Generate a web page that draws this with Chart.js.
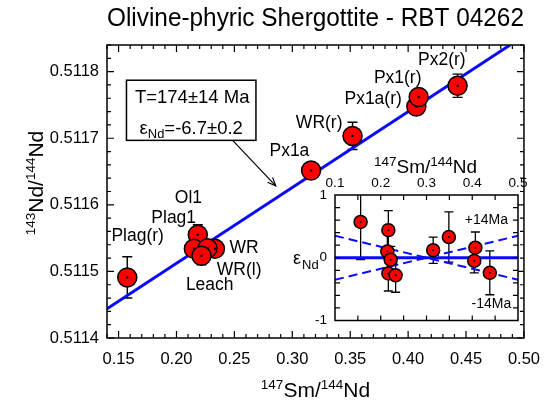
<!DOCTYPE html>
<html><head><meta charset="utf-8">
<script src="https://cdn.jsdelivr.net/npm/chart.js@4.4.1/dist/chart.umd.min.js"></script>
<style>
html,body{margin:0;padding:0;background:#fff;}
#wrap{position:relative;width:552px;height:408px;overflow:hidden;}
#main{position:absolute;left:0;top:0;}
#inset{position:absolute;left:280px;top:150px;}
</style></head><body>
<div id="wrap"><canvas id="main" width="552" height="408"></canvas><canvas id="inset" width="262" height="190"></canvas></div>
<script>
// ---------- data ----------
const sampleNames = ['Plag(r)','Ol1','Plag1','WR','WR(l)','Leach','Px1a','WR(r)','Px1a(r)','Px1(r)','Px2(r)'];
const smNd  = [0.1575, 0.2184, 0.2150, 0.2332, 0.2268, 0.2216, 0.3162, 0.3520, 0.4071, 0.4091, 0.4427];
const ndNd  = [0.511491, 0.511555, 0.511534, 0.511534, 0.5115347, 0.5115235, 0.5116515, 0.5117035, 0.5117475, 0.511762, 0.5117788];
const ndErr = [0.000031, 0.000015, 0.000010, 0.000010, 0.000010, 0.0000135, 0.000008, 0.0000205, 0.000008, 0.000008, 0.0000175];
const isoX = [0.14, 0.488];
const isoY = [0.511444, 0.51184];
const xTicks = [0.15, 0.20, 0.25, 0.30, 0.35, 0.40, 0.45, 0.50];
const yTicks = [0.5114, 0.5115, 0.5116, 0.5117, 0.5118];

const epsX   = [0.156, 0.2166, 0.2144, 0.2217, 0.2166, 0.2325, 0.3146, 0.3489, 0.4068, 0.4044, 0.4384];
const epsVal = [0.57, 0.44, 0.10, -0.03, -0.25, -0.28, 0.12, 0.33, 0.16, -0.05, -0.24];
const epsErr = [0.60, 0.31, 0.30, 0.21, 0.28, 0.27, 0.21, 0.40, 0.25, 0.19, 0.35];
const zeroX = [0.1, 0.5], zeroY = [0, 0];
const envX = [0.1, 0.5];
const envPlus = [-0.35, 0.35];
const envMinus = [0.35, -0.35];
const insetXTicks = [0.1, 0.2, 0.3, 0.4, 0.5];
const insetYTicks = [-1, 0, 1];

// ---------- annotation placement (data coordinates) ----------
const labelPos = {
  'Plag(r)':[0.1665,0.5115524], 'Ol1':[0.2103,0.5116105], 'Plag1':[0.1976,0.5115805],
  'WR':[0.2583,0.511535], 'WR(l)':[0.2541,0.5115025], 'Leach':[0.2287,0.5114789],
  'Px1a':[0.2975,0.511681], 'WR(r)':[0.3232,0.5117226], 'Px1a(r)':[0.3698,0.5117586],
  'Px1(r)':[0.391,0.5117901], 'Px2(r)':[0.4291,0.5118165]
};
const infoBox = {x1:0.1568, x2:0.2686, yTop:0.5117871, yBot:0.5116968};
const arrow = {from:[0.2485,0.5116968], to:[0.2857,0.5116285]};

const FONT = '"Liberation Sans", Arial, Helvetica, sans-serif';
const BLUE = '#0a0aff', RED = '#ff0000';

function richWidth(ctx, parts){
  let w=0; parts.forEach(p=>{ctx.font=p.size+'px '+FONT; w+=ctx.measureText(p.t).width;}); return w;
}
function drawRich(ctx, parts, x, y){ // x = centre, y = baseline
  let cx = x - richWidth(ctx, parts)/2;
  ctx.textAlign='left'; ctx.textBaseline='alphabetic';
  parts.forEach(p=>{ctx.font=p.size+'px '+FONT; ctx.fillText(p.t, cx, y + (p.dy||0)); cx += ctx.measureText(p.t).width;});
}

const mainDecor = {
  id:'mainDecor',
  beforeDatasetsDraw(chart){
    const {ctx, scales:{x,y}} = chart;
    ctx.save(); ctx.strokeStyle='#000'; ctx.lineWidth=1.4;
    smNd.forEach((v,i)=>{
      const px=x.getPixelForValue(v), y1=y.getPixelForValue(ndNd[i]+ndErr[i]), y2=y.getPixelForValue(ndNd[i]-ndErr[i]);
      ctx.beginPath(); ctx.moveTo(px,y1); ctx.lineTo(px,y2);
      ctx.moveTo(px-5,y1); ctx.lineTo(px+5,y1); ctx.moveTo(px-5,y2); ctx.lineTo(px+5,y2); ctx.stroke();
    });
    ctx.restore();
  },
  afterDatasetsDraw(chart){
    const {ctx, scales:{x,y}, chartArea:a} = chart;
    ctx.save();
    // centre dots
    ctx.fillStyle='#000';
    smNd.forEach((v,i)=>{ctx.beginPath(); ctx.arc(x.getPixelForValue(v), y.getPixelForValue(ndNd[i]), 1.2, 0, Math.PI*2); ctx.fill();});
    // frame
    ctx.strokeStyle='#000'; ctx.lineWidth=1.5;
    ctx.strokeRect(a.left, a.top, a.right-a.left, a.bottom-a.top);
    // ticks
    ctx.lineWidth=1.2; ctx.beginPath();
    for(let k=14;k<=50;k++){
      const v=k/100, px=x.getPixelForValue(v), L=(k%5===0)?7:4;
      ctx.moveTo(px,a.bottom); ctx.lineTo(px,a.bottom-L);
      ctx.moveTo(px,a.top); ctx.lineTo(px,a.top+L);
    }
    for(let k=0;k<=22;k++){
      const v=0.5114+k*0.00002, py=y.getPixelForValue(v), L=(k%5===0)?7:4;
      ctx.moveTo(a.left,py); ctx.lineTo(a.left+L,py);
      ctx.moveTo(a.right,py); ctx.lineTo(a.right-L,py);
    }
    ctx.stroke();
    // point labels
    ctx.fillStyle='#000'; ctx.font='17.5px '+FONT; ctx.textAlign='center'; ctx.textBaseline='middle';
    sampleNames.forEach(n=>{const p=labelPos[n]; ctx.fillText(n, x.getPixelForValue(p[0]), y.getPixelForValue(p[1]));});
    // info box
    const bx1=x.getPixelForValue(infoBox.x1), bx2=x.getPixelForValue(infoBox.x2), by1=y.getPixelForValue(infoBox.yTop), by2=y.getPixelForValue(infoBox.yBot);
    ctx.fillStyle='#fff'; ctx.fillRect(bx1,by1,bx2-bx1,by2-by1);
    ctx.lineWidth=1.5; ctx.strokeRect(bx1,by1,bx2-bx1,by2-by1);
    ctx.fillStyle='#000';
    const cx=(bx1+bx2)/2;
    drawRich(ctx,[{t:'T=174\u00b114 Ma',size:18.5}], cx+1, by1+23);
    drawRich(ctx,[{t:'\u03b5',size:18.5},{t:'Nd',size:13,dy:4},{t:'=-6.7\u00b10.2',size:18.5}], cx, by1+54);
    // arrow
    const ax1=x.getPixelForValue(arrow.from[0]), ay1=y.getPixelForValue(arrow.from[1]);
    const ax2=x.getPixelForValue(arrow.to[0]), ay2=y.getPixelForValue(arrow.to[1]);
    ctx.strokeStyle='#000'; ctx.lineWidth=1.2;
    ctx.beginPath(); ctx.moveTo(ax1,ay1); ctx.lineTo(ax2,ay2); ctx.stroke();
    const ang=Math.atan2(ay2-ay1, ax2-ax1);
    ctx.beginPath();
    ctx.moveTo(ax2-9*Math.cos(ang-0.4), ay2-9*Math.sin(ang-0.4)); ctx.lineTo(ax2,ay2);
    ctx.lineTo(ax2-9*Math.cos(ang+0.4), ay2-9*Math.sin(ang+0.4)); ctx.stroke();
    // axis titles
    drawRich(ctx,[{t:'147',size:13.5,dy:-8},{t:'Sm/',size:21},{t:'144',size:13.5,dy:-8},{t:'Nd',size:21}], (a.left+a.right)/2, 397);
    ctx.save(); ctx.translate(43, 183); ctx.rotate(-Math.PI/2);
    drawRich(ctx,[{t:'143',size:13.5,dy:-8},{t:'Nd/',size:21},{t:'144',size:13.5,dy:-8},{t:'Nd',size:21}], 0, 0);
    ctx.restore();
    ctx.restore();
  }
};

new Chart(document.getElementById('main'), {
  type:'scatter',
  data:{datasets:[
    {type:'line', data: isoX.map((v,i)=>({x:v,y:isoY[i]})), borderColor:BLUE, borderWidth:3, pointRadius:0, fill:false, order:2},
    {data: smNd.map((v,i)=>({x:v,y:ndNd[i]})), backgroundColor:RED, borderColor:'#000', borderWidth:1.5, pointRadius:9.5, order:1}
  ]},
  options:{
    responsive:false, animation:false, events:[],
    layout:{padding:{left:0,right:20,top:0,bottom:0}},
    plugins:{
      legend:{display:false}, tooltip:{enabled:false},
      title:{display:true, text:'Olivine-phyric Shergottite - RBT 04262', fullSize:false, color:'#000',
        font:{family:FONT,size:25,weight:'normal',lineHeight:1.2}, padding:{top:4,bottom:11}}
    },
    scales:{
      x:{type:'linear', min:0.14, max:0.50, grid:{display:false,drawTicks:false}, border:{display:false},
        ticks:{color:'#000', font:{family:FONT,size:16.5}, padding:12, maxRotation:0, autoSkip:false, callback:v=>v.toFixed(2)},
        afterBuildTicks:s=>{s.ticks=xTicks.map(v=>({value:v}));}, afterFit:s=>{s.height=70;}},
      y:{type:'linear', min:0.5114, max:0.51184, grid:{display:false,drawTicks:false}, border:{display:false},
        ticks:{color:'#000', font:{family:FONT,size:16.5}, padding:8, autoSkip:false, callback:v=>v.toFixed(4)},
        afterBuildTicks:s=>{s.ticks=yTicks.map(v=>({value:v}));}, afterFit:s=>{s.width=107;}}
    }
  },
  plugins:[mainDecor]
});

// ---------- inset ----------
const insetLabels = [{t:'+14Ma', x:0.431, y:0.6}, {t:'-14Ma', x:0.442, y:-0.74}];
const insetDecor = {
  id:'insetDecor',
  beforeDraw(chart){
    const {ctx, chartArea:a}=chart; ctx.save(); ctx.fillStyle='#fff'; ctx.fillRect(a.left,a.top,a.right-a.left,a.bottom-a.top); ctx.restore();
  },
  beforeDatasetsDraw(chart){
    const {ctx, scales:{x,y}, chartArea:a}=chart;
    ctx.save(); ctx.beginPath(); ctx.rect(a.left,a.top,a.right-a.left,a.bottom-a.top); ctx.clip();
    ctx.strokeStyle='#000'; ctx.lineWidth=1.3;
    epsX.forEach((v,i)=>{
      const px=x.getPixelForValue(v), y1=y.getPixelForValue(epsVal[i]+epsErr[i]), y2=y.getPixelForValue(epsVal[i]-epsErr[i]);
      ctx.beginPath(); ctx.moveTo(px,y1); ctx.lineTo(px,y2);
      ctx.moveTo(px-4.5,y1); ctx.lineTo(px+4.5,y1); ctx.moveTo(px-4.5,y2); ctx.lineTo(px+4.5,y2); ctx.stroke();
    });
    ctx.restore();
  },
  afterDatasetsDraw(chart){
    const {ctx, scales:{x,y}, chartArea:a}=chart;
    ctx.save();
    ctx.fillStyle='#000';
    epsX.forEach((v,i)=>{ctx.beginPath(); ctx.arc(x.getPixelForValue(v), y.getPixelForValue(epsVal[i]), 1, 0, Math.PI*2); ctx.fill();});
    ctx.strokeStyle='#000'; ctx.lineWidth=1.5; ctx.strokeRect(a.left,a.top,a.right-a.left,a.bottom-a.top);
    ctx.lineWidth=1.2; ctx.beginPath();
    for(let k=3;k<=9;k++){const px=x.getPixelForValue(k*0.05); ctx.moveTo(px,a.bottom); ctx.lineTo(px,a.bottom-5); ctx.moveTo(px,a.top); ctx.lineTo(px,a.top+5);}
    for(let k=-4;k<=4;k++){const py=y.getPixelForValue(k*0.2); ctx.moveTo(a.left,py); ctx.lineTo(a.left+5,py); ctx.moveTo(a.right,py); ctx.lineTo(a.right-5,py);}
    ctx.stroke();
    ctx.font='14px '+FONT; ctx.textAlign='center'; ctx.textBaseline='middle';
    insetLabels.forEach(l=>ctx.fillText(l.t, x.getPixelForValue(l.x), y.getPixelForValue(l.y)));
    drawRich(ctx,[{t:'147',size:13.5,dy:-7},{t:'Sm/',size:19},{t:'144',size:13.5,dy:-7},{t:'Nd',size:19}], (a.left+a.right)/2 - 1, a.top-22);
    ctx.textAlign='left';
    const py0=y.getPixelForValue(0);
    ctx.font='18px '+FONT; ctx.textBaseline='alphabetic'; ctx.fillText('\u03b5', 13, py0+6);
    ctx.font='13px '+FONT; ctx.fillText('Nd', 22, py0+11);
    ctx.restore();
  }
};

new Chart(document.getElementById('inset'), {
  type:'scatter',
  data:{datasets:[
    {type:'line', data: zeroX.map((v,i)=>({x:v,y:zeroY[i]})), borderColor:BLUE, borderWidth:3, pointRadius:0, fill:false, order:3},
    {type:'line', data: envX.map((v,i)=>({x:v,y:envPlus[i]})), borderColor:BLUE, borderWidth:2, borderDash:[9,5], pointRadius:0, fill:false, order:3},
    {type:'line', data: envX.map((v,i)=>({x:v,y:envMinus[i]})), borderColor:BLUE, borderWidth:2, borderDash:[9,5], pointRadius:0, fill:false, order:3},
    {data: epsX.map((v,i)=>({x:v,y:epsVal[i]})), backgroundColor:RED, borderColor:'#000', borderWidth:1.5, pointRadius:6.5, order:1}
  ]},
  options:{
    responsive:false, animation:false, events:[],
    layout:{padding:{left:0,right:24,top:0,bottom:19.5}},
    plugins:{legend:{display:false}, tooltip:{enabled:false}},
    scales:{
      x:{type:'linear', position:'top', min:0.1, max:0.5, grid:{display:false,drawTicks:false}, border:{display:false},
        ticks:{color:'#000', font:{family:FONT,size:13.5}, padding:4, maxRotation:0, autoSkip:false, callback:v=>v.toFixed(1)},
        afterBuildTicks:s=>{s.ticks=insetXTicks.map(v=>({value:v}));}, afterFit:s=>{s.height=45;}},
      y:{type:'linear', min:-1, max:1, grid:{display:false,drawTicks:false}, border:{display:false},
        ticks:{color:'#000', font:{family:FONT,size:13.5}, padding:8, autoSkip:false, callback:v=>String(v)},
        afterBuildTicks:s=>{s.ticks=insetYTicks.map(v=>({value:v}));}, afterFit:s=>{s.width=55;}}
    }
  },
  plugins:[insetDecor]
});
</script>
</body></html>
